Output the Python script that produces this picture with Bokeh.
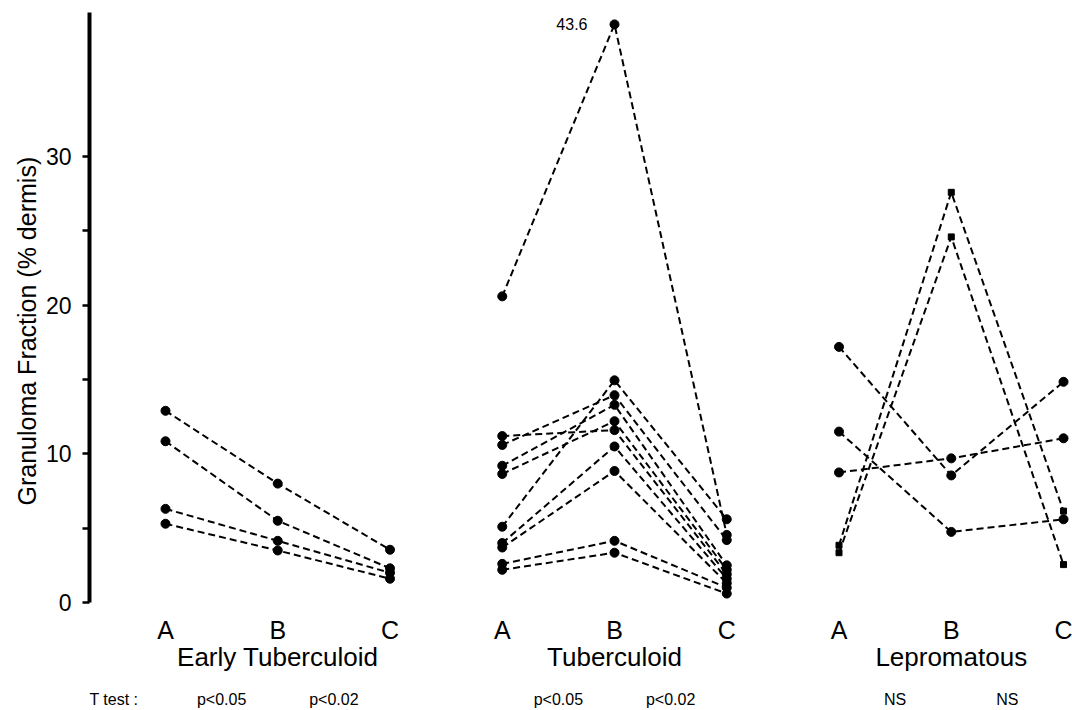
from bokeh.plotting import figure
from bokeh.models import Range1d, FixedTicker, LinearAxis, Title
from bokeh.embed import file_html
from bokeh.resources import INLINE
from bokeh.core.properties import value

# ---------------- data ----------------
stages = ["A", "B", "C"]
groups = ["Early Tuberculoid", "Tuberculoid", "Lepromatous"]
ttest_title = "T test :"
ttest_labels = ["p<0.05", "p<0.02", "p<0.05", "p<0.02", "NS", "NS"]
y_title = "Granuloma Fraction (% dermis)"

# Early Tuberculoid (one entry per patient)
early_A = [12.9, 10.85, 6.3, 5.3]
early_B = [8.0, 5.5, 4.15, 3.5]
early_C = [3.55, 2.3, 2.0, 1.6]

# Tuberculoid (first patient's B value is off-scale, shown as 43.6)
tub_A = [20.6, 11.2, 10.6, 9.2, 8.65, 5.1, 4.0, 3.7, 2.6, 2.2]
tub_B = [38.9, 11.6, 13.95, 13.3, 12.2, 14.95, 10.5, 8.85, 4.15, 3.35]
tub_C = [4.55, 1.9, 4.2, 2.5, 2.2, 5.6, 1.6, 1.3, 1.0, 0.6]
tub_offscale_label = "43.6"

# Lepromatous - circles
lep_A = [17.2, 11.5, 8.75]
lep_B = [8.55, 4.75, 9.7]
lep_C = [14.85, 5.6, 11.05]
# Lepromatous - squares
lep_sq_A = [3.85, 3.35]
lep_sq_B = [27.6, 24.6]
lep_sq_C = [6.15, 2.55]

y_ticks = [0, 5, 10, 15, 20, 25, 30]
y_tick_labels = ["0", "", "10", "", "20", "", "30"]

FONT = "Liberation Sans"
DASH = "7 4"

p = figure(width=1072, height=710, output_backend="svg", toolbar_location=None,
           x_range=Range1d(-0.677, 8.08), y_range=Range1d(0, 39.7),
           min_border_left=89, min_border_right=0, min_border_top=12,
           min_border_bottom=105)
p.outline_line_color = None
p.grid.visible = False
p.background_fill_color = "white"


def draw_group(gi, A, B, C, marker, size):
    xs, ys = [], []
    for a, b, c in zip(A, B, C):
        xs.append([3 * gi, 3 * gi + 1, 3 * gi + 2])
        ys.append([a, b, c])
    p.multi_line(xs, ys, line_color="black", line_width=2, line_dash=DASH)
    px = [3 * gi] * len(A) + [3 * gi + 1] * len(B) + [3 * gi + 2] * len(C)
    py = list(A) + list(B) + list(C)
    p.scatter(px, py, marker=marker, size=size, fill_color="black", line_color="black")


draw_group(0, early_A, early_B, early_C, "circle", 9)
draw_group(1, tub_A, tub_B, tub_C, "circle", 9)
draw_group(2, lep_A, lep_B, lep_C, "circle", 9)
draw_group(2, lep_sq_A, lep_sq_B, lep_sq_C, "square", 6)

p.text(x=[4], y=[tub_B[0]], text=[tub_offscale_label], x_offset=-27,
       text_align="right", text_baseline="middle", text_font=value(FONT),
       text_font_size="16px", text_color="black")

# y axis
ya = p.yaxis[0]
ya.ticker = FixedTicker(ticks=y_ticks, minor_ticks=[])
ya.major_label_overrides = {t: s for t, s in zip(y_ticks, y_tick_labels)}
ya.axis_line_width = 4
ya.axis_line_color = "black"
ya.major_tick_out = 7
ya.major_tick_in = 0
ya.major_tick_line_width = 2.5
ya.major_tick_line_color = "black"
ya.minor_tick_line_color = None
ya.major_label_text_font = FONT
ya.major_label_text_font_size = "23px"
ya.major_label_text_color = "black"
ya.major_label_standoff = 11

# y-axis title as a side title (lets it sit a little below the frame centre)
yt = Title(text=y_title, align="left", offset=97, standoff=3,
           text_font=FONT, text_font_size="25px", text_font_style="normal",
           text_color="black")
p.add_layout(yt, "left")

# stage letters
xa = p.xaxis[0]
xa.ticker = FixedTicker(ticks=list(range(9)), minor_ticks=[])
xa.major_label_overrides = {i: stages[i % 3] for i in range(9)}
xa.axis_line_color = None
xa.major_tick_line_color = None
xa.minor_tick_line_color = None
xa.major_label_text_font = FONT
xa.major_label_text_font_size = "25px"
xa.major_label_text_color = "black"
xa.major_label_standoff = 7

# group names
ga = LinearAxis(ticker=FixedTicker(ticks=[1, 4, 7], minor_ticks=[]),
                major_label_overrides={1: groups[0], 4: groups[1], 7: groups[2]})
ga.axis_line_color = None
ga.major_tick_line_color = None
ga.minor_tick_line_color = None
ga.major_label_text_font = FONT
ga.major_label_text_font_size = "26px"
ga.major_label_text_color = "black"
ga.major_label_standoff = -11
p.add_layout(ga, "below")

# T test row
t_pos = [-0.46, 0.5, 1.5, 3.5, 4.5, 6.5, 7.5]
t_text = [ttest_title] + ttest_labels
ta = LinearAxis(ticker=FixedTicker(ticks=t_pos, minor_ticks=[]),
                major_label_overrides={k: v for k, v in zip(t_pos, t_text)})
ta.axis_line_color = None
ta.major_tick_line_color = None
ta.minor_tick_line_color = None
ta.major_label_text_font = FONT
ta.major_label_text_font_size = "16px"
ta.major_label_text_color = "black"
ta.major_label_standoff = 10
p.add_layout(ta, "below")

open("out.html", "w").write(file_html(p, INLINE))
